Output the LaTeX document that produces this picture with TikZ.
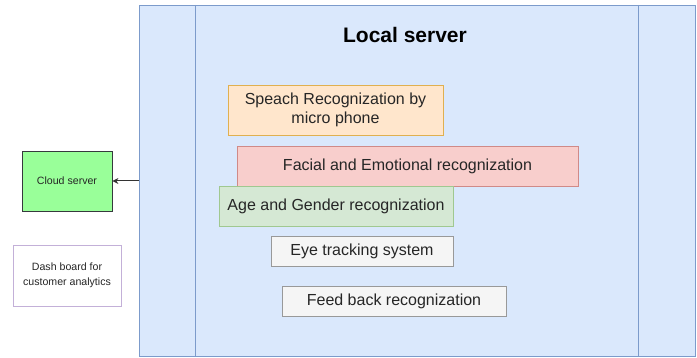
\documentclass[tikz,border=0pt]{standalone}
\usepackage{fontspec}
\setmainfont{Liberation Sans}
\usetikzlibrary{arrows.meta}
\definecolor{lsfill}{HTML}{DAE8FC}
\definecolor{lsdraw}{HTML}{7C9BCB}
\definecolor{orfill}{HTML}{FFE6CC}
\definecolor{ordraw}{HTML}{E0B050}
\definecolor{rdfill}{HTML}{F8CECC}
\definecolor{rddraw}{HTML}{D08A88}
\definecolor{gnfill}{HTML}{D5E8D4}
\definecolor{gndraw}{HTML}{A0C890}
\definecolor{gyfill}{HTML}{F5F5F5}
\definecolor{gydraw}{HTML}{999999}
\definecolor{cgfill}{HTML}{99FF99}
\definecolor{cgdraw}{HTML}{36393D}
\definecolor{pudraw}{HTML}{C3B0D8}
\begin{document}
\begin{tikzpicture}[x=1pt,y=-1pt,
  box/.style={draw, line width=0.8pt, inner sep=0pt, align=center, text=black!85},
  boxtext/.style={font=\fontsize{16}{19}\selectfont},
  smalltext/.style={font=\fontsize{10.6}{15}\selectfont}]
\useasboundingbox (0,0) rectangle (697,358);
% local server container
\node[draw=lsdraw, fill=lsfill, line width=0.8pt, minimum width=556pt, minimum height=351pt, inner sep=0pt] (ls) at (417,180.5) {};
\draw[lsdraw, line width=0.8pt] (195,5) -- (195,356);
\draw[lsdraw, line width=0.8pt] (638,5) -- (638,356);
\node[font=\bfseries\fontsize{21}{24}\selectfont] (title) at (405,35) {Local server};
% inner boxes
\node[box, boxtext, fill=orfill, draw=ordraw, minimum width=215pt, minimum height=50pt] (speech) at (335.5,110) {Speach Recognization by\\micro phone};
\node[box, boxtext, fill=rdfill, draw=rddraw, minimum width=341pt, minimum height=40pt] (facial) at (407.5,166) {Facial and Emotional recognization};
\node[box, boxtext, fill=gnfill, draw=gndraw, minimum width=234pt, minimum height=40pt] (age) at (336,206) {Age and Gender recognization};
\node[box, boxtext, fill=gyfill, draw=gydraw, minimum width=182pt, minimum height=30pt] (eye) at (362,251) {Eye tracking system};
\node[box, boxtext, fill=gyfill, draw=gydraw, minimum width=224pt, minimum height=30pt] (feed) at (394,301) {Feed back recognization};
% outside boxes
\node[box, smalltext, fill=cgfill, draw=cgdraw, minimum width=90pt, minimum height=60pt] (cloud) at (67,181) {Cloud server};
\node[box, smalltext, fill=white, draw=pudraw, minimum width=108pt, minimum height=61pt] (dash) at (67,275.5) {Dash board for\\customer analytics};
% arrow
\draw[-{Stealth[length=6pt,width=6pt]}, line width=1pt, black!80] (ls.west |- cloud.east) -- (cloud.east);
\end{tikzpicture}
\end{document}
